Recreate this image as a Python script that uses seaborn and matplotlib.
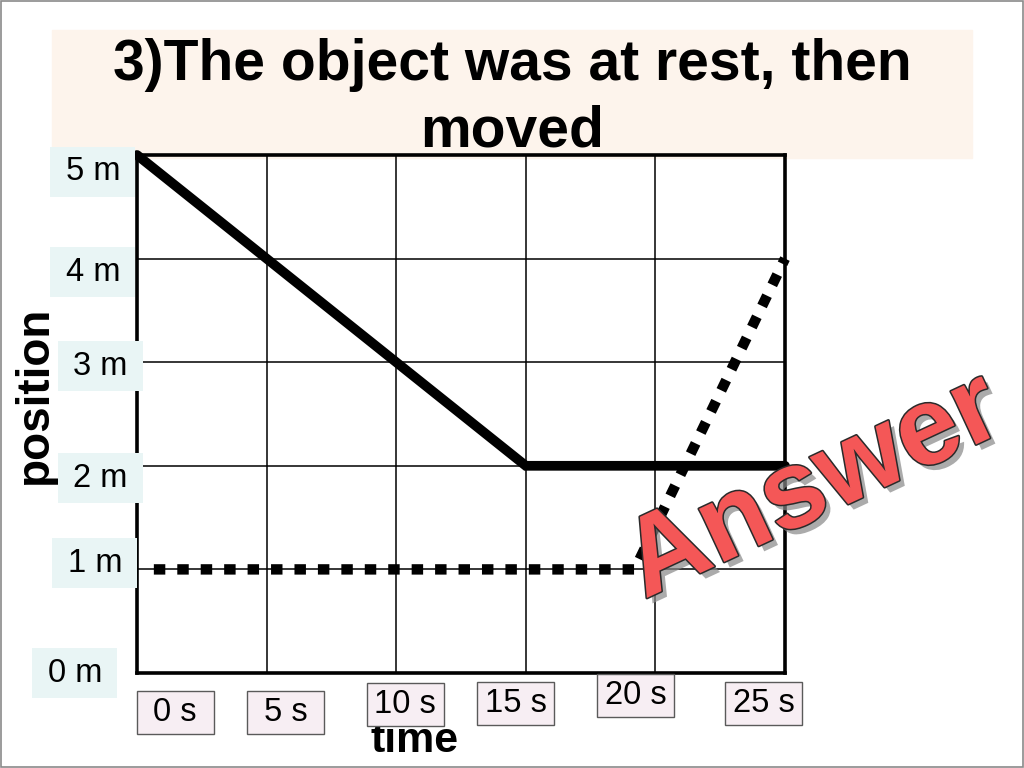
import matplotlib
matplotlib.use("Agg")
import matplotlib.pyplot as plt
import matplotlib.patheffects as pe
import matplotlib.transforms as mtransforms
from matplotlib.patches import Rectangle
import seaborn as sns

# values
time_ticks = [0, 5, 10, 15, 20, 25]
pos_ticks = [0, 1, 2, 3, 4, 5]
time_labels = ["0 s", "5 s", "10 s", "15 s", "20 s", "25 s"]
pos_labels = ["0 m", "1 m", "2 m", "3 m", "4 m", "5 m"]

# solid line: moves from 5 m down to 2 m, then rests
solid_t = [0, 15, 25]
solid_x = [5, 2, 2]

# dotted line: rests at 1 m, then moves up to 4 m
dotted_t = [0.65, 19.2, 25]
dotted_x = [1, 1, 4]

title = "3)The object was at rest, then\nmoved"
stamp = "Answer"

# label box nudges (the slide boxes are not lined up exactly)
pos_box_dx = [-0.096, -0.065, -0.057, -0.057, -0.068, -0.068]   # axes fraction
pos_box_dy = [0.0, 0.06, -0.12, -0.04, -0.13, -0.16]           # data units
time_box_dx = [1.47, 0.73, 0.34, -0.38, -0.77, -0.83]          # data units
time_box_y = [-0.076, -0.076, -0.060, -0.059, -0.0425, -0.059]  # axes fraction

sns.set_style("white")
plt.rcParams['font.family'] = ['Liberation Sans', 'DejaVu Sans']
plt.rcParams['text.color'] = 'black'
plt.rcParams['axes.labelcolor'] = 'black'
narrow = ['Liberation Sans Narrow', 'Liberation Sans', 'DejaVu Sans']

fig = plt.figure(figsize=(10.24, 7.68), dpi=100, facecolor='white')
ax = fig.add_axes([137 / 1024, 1 - 673 / 768, 648 / 1024, 518 / 768])
ax.set_facecolor('none')

# beige title strip and thin slide border
fig.patches.append(Rectangle((52 / 1024, 1 - 158 / 768), 920 / 1024, 128 / 768,
                             transform=fig.transFigure, color='#fdf4ec', zorder=-5))
fig.patches.append(Rectangle((0.001, 0.001), 0.998, 0.998, transform=fig.transFigure,
                             fill=False, edgecolor='#8a8a8a', lw=1.2, zorder=10))
fig.text(0.5, 1 - 98 / 768, title, ha='center', va='center', fontsize=41,
         weight='bold', family=narrow, linespacing=1.3, color='black')

sns.lineplot(x=solid_t, y=solid_x, ax=ax, color='black', lw=7,
             solid_joinstyle='miter', clip_on=False, zorder=4)
sns.lineplot(x=dotted_t, y=dotted_x, ax=ax, color='black', lw=7.5,
             linestyle=(0, (1.1, 1.15)), dash_capstyle='butt', clip_on=False, zorder=4)

ax.set_xlim(0, 25)
ax.set_ylim(0, 5)
ax.set_xticks(time_ticks)
ax.set_yticks(pos_ticks)
ax.grid(True, color='black', lw=1.1)
ax.tick_params(length=0, labelleft=False, labelbottom=False)
for s in ax.spines.values():
    s.set_visible(True)
    s.set_color('black')
    s.set_linewidth(2.6)

# boxed tick labels
ytr = mtransforms.blended_transform_factory(ax.transAxes, ax.transData)
for v, lab, dx, dy in zip(pos_ticks, pos_labels, pos_box_dx, pos_box_dy):
    ax.add_patch(Rectangle((dx - 0.0655, v + dy - 0.2415), 0.131, 0.483, transform=ytr,
                           facecolor='#e9f5f5', edgecolor='none', clip_on=False, zorder=6))
    ax.text(dx, v + dy, lab, transform=ytr, ha='center', va='center', fontsize=23.5,
            color='black', clip_on=False, zorder=7)

xtr = mtransforms.blended_transform_factory(ax.transData, ax.transAxes)
for v, lab, dx, yy in zip(time_ticks, time_labels, time_box_dx, time_box_y):
    ax.add_patch(Rectangle((v + dx - 1.485, yy - 0.0415), 2.97, 0.083, transform=xtr,
                           facecolor='#f7eef3', edgecolor='#5a5a5a', lw=1.0,
                           clip_on=False, zorder=6))
    ax.text(v + dx, yy, lab, transform=xtr, ha='center', va='center', fontsize=23.5,
            color='black', clip_on=False, zorder=7)

ax.set_ylabel('position', fontsize=33, weight='bold', ha='center', va='center')
ax.yaxis.set_label_coords(-0.157, 0.537)
ax.set_xlabel('time', fontsize=31, weight='bold', ha='center', va='center')
ax.xaxis.set_label_coords(0.429, -0.131)

# the red "Answer" stamp
fig.text(814 / 1024, 1 - 488 / 768, stamp, rotation=25, ha='center', va='center',
         fontsize=80, weight='bold', family=narrow, color='#f45757', zorder=20,
         path_effects=[pe.SimplePatchShadow(offset=(4, -4), shadow_rgbFace='#888888', alpha=0.7),
                       pe.Stroke(linewidth=2.2, foreground='#2a2a2a'), pe.Normal()])

fig.savefig('out.png', dpi=100)
